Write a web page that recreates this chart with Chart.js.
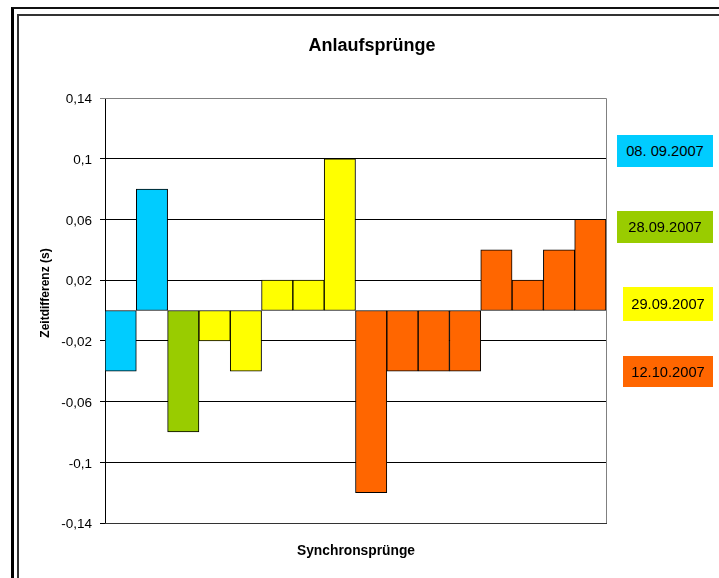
<!DOCTYPE html>
<html>
<head>
<meta charset="utf-8">
<script src="https://cdn.jsdelivr.net/npm/chart.js@4/dist/chart.umd.min.js"></script>
<style>
  html, body { margin: 0; padding: 0; background: #fff; overflow: hidden; }
  #wrap { position: relative; width: 719px; height: 578px; }
  #c { position: absolute; left: 0; top: 0; z-index: 2; }
  .frame { position: absolute; z-index: 1; width: 900px; height: 800px; }
  #outer { left: 11px; top: 7px; border-left: 3px solid #000; border-top: 2px solid #111; }
  #inner { left: 17px; top: 14px; border-left: 2px solid #333; border-top: 2px solid #333; }
  .lg { position: absolute; z-index: 3; font-family: "Liberation Sans", Arial, sans-serif; font-size: 14.7px;
        color: #000; display: flex; align-items: center; justify-content: center; }
</style>
</head>
<body>
<div id="wrap">
  <div class="frame" id="outer"></div>
  <div class="frame" id="inner"></div>
  <canvas id="c" width="719" height="578"></canvas>
  <div id="legend"></div>
</div>
<script>
// ---- data ----
const categories = ["1","2","3","4","5","6","7","8","9","10","11","12","13","14","15","16"];
const values = [-0.04, 0.08, -0.08, -0.02, -0.04, 0.02, 0.02, 0.1, -0.12, -0.04, -0.04, -0.04, 0.04, 0.02, 0.04, 0.06];
const groupOfBar = [0, 0, 1, 2, 2, 2, 2, 2, 3, 3, 3, 3, 3, 3, 3, 3];
const groupLabels = ["08. 09.2007", "28.09.2007", "29.09.2007", "12.10.2007"];
const groupColors = ["#00CCFF", "#99CC00", "#FFFF00", "#FF6600"];
const tickValues = [-0.14, -0.1, -0.06, -0.02, 0.02, 0.06, 0.1, 0.14];
const titleText = "Anlaufsprünge";
const yTitleText = "Zeitdifferenz (s)";
const xTitleText = "Synchronsprünge";

const FONT = '"Liberation Sans", Arial, sans-serif';

// legend boxes (HTML text)
const legendBoxes = [
  {left: 617, top: 135, w: 96, h: 32},
  {left: 617, top: 211, w: 96, h: 32},
  {left: 623, top: 287, w: 90, h: 34},
  {left: 623, top: 356, w: 90, h: 31}
];
const lg = document.getElementById('legend');
groupLabels.forEach((t, i) => {
  const d = document.createElement('div');
  d.className = 'lg';
  const b = legendBoxes[i];
  d.style.left = b.left + 'px'; d.style.top = b.top + 'px';
  d.style.width = b.w + 'px'; d.style.height = b.h + 'px';
  d.style.background = groupColors[i];
  d.textContent = t;
  lg.appendChild(d);
});

const textPlugin = {
  id: 'texts',
  beforeDatasetsDraw(chart) {
    const {ctx, chartArea: a} = chart;
    ctx.save();
    ctx.strokeStyle = '#808080';
    ctx.lineWidth = 1;
    ctx.beginPath();
    ctx.moveTo(a.left, a.top + 0.5);
    ctx.lineTo(a.right + 0.5, a.top + 0.5);
    ctx.lineTo(a.right + 0.5, a.bottom);
    ctx.stroke();
    ctx.strokeStyle = '#333';
    ctx.beginPath();
    ctx.moveTo(a.left, a.bottom + 0.5);
    ctx.lineTo(a.right + 1, a.bottom + 0.5);
    ctx.stroke();
    ctx.restore();
  },
  afterDraw(chart) {
    const {ctx} = chart;
    ctx.save();
    ctx.fillStyle = '#000';
    ctx.textAlign = 'center';
    ctx.textBaseline = 'middle';
    ctx.font = 'bold 18px ' + FONT;
    ctx.fillText(titleText, 372, 46);
    ctx.font = 'bold 13.8px ' + FONT;
    ctx.fillText(xTitleText, 356, 551);
    ctx.font = 'bold 12px ' + FONT;
    ctx.translate(46, 293);
    ctx.rotate(-Math.PI / 2);
    ctx.fillText(yTitleText, 0, 0);
    ctx.restore();
  }
};

new Chart(document.getElementById('c'), {
  type: 'bar',
  data: {
    labels: categories,
    datasets: [{
      data: values,
      backgroundColor: groupOfBar.map(g => groupColors[g]),
      borderColor: '#000',
      borderWidth: 1,
      borderSkipped: false,
      barPercentage: 1,
      categoryPercentage: 1
    }]
  },
  options: {
    responsive: false,
    animation: false,
    layout: { padding: { left: 0, top: 98, right: 113, bottom: 55 } },
    plugins: { legend: { display: false }, title: { display: false }, tooltip: { enabled: false } },
    scales: {
      x: { display: false },
      y: {
        min: -0.14, max: 0.14,
        afterBuildTicks: (s) => { s.ticks = tickValues.map(v => ({value: v})); },
        afterFit: (s) => { s.width = 105; },
        grid: {
          color: (c) => (c.tick && c.tick.value === 0.14) ? '#808080' : '#000',
          lineWidth: 1,
          tickLength: 5,
          drawTicks: true
        },
        border: { display: true, color: '#000', width: 1 },
        ticks: {
          padding: 8,
          labelOffset: 1.5,
          color: '#000',
          font: { family: FONT, size: 13.5 },
          callback: (v) => Number(v.toFixed(2)).toString().replace('.', ',')
        }
      }
    }
  },
  plugins: [textPlugin]
});
</script>
</body>
</html>
